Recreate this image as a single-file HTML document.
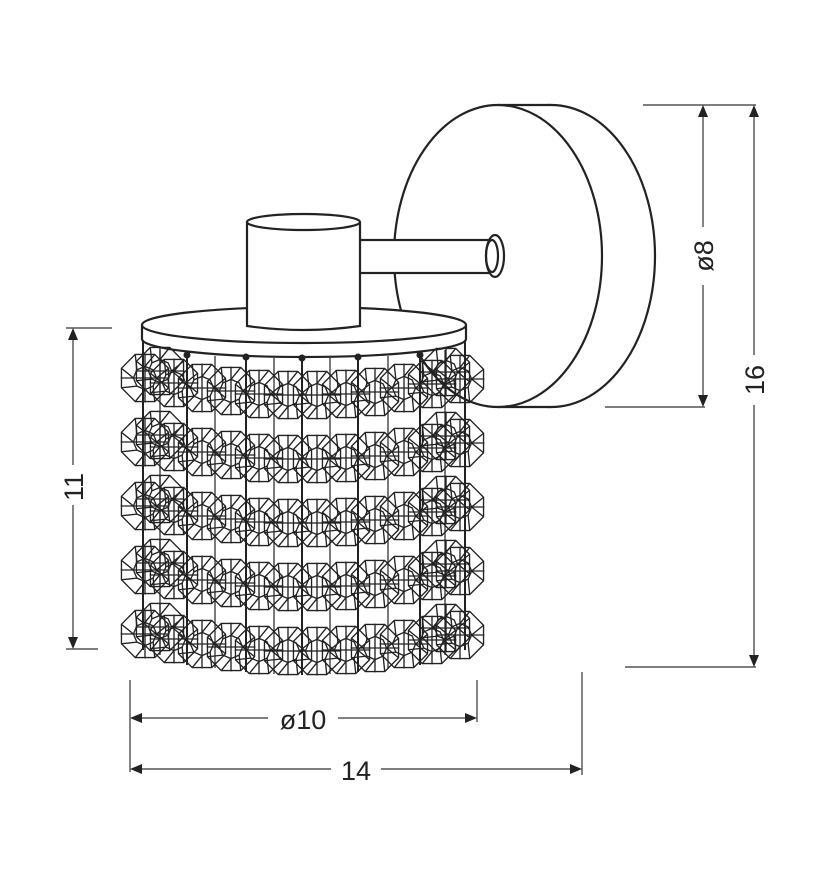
<!DOCTYPE html>
<html><head><meta charset="utf-8"><style>
html,body{margin:0;padding:0;background:#fff;width:828px;height:886px;overflow:hidden}
svg{display:block}
text{font-family:"Liberation Sans",sans-serif;font-size:27px;fill:#222}
</style></head><body>
<svg width="828" height="886" viewBox="0 0 828 886">
<defs>
<g id="c" fill="none" stroke="#222" stroke-width="1.15" transform="scale(1.16)">
<polygon points="20.3,8.4 8.4,20.3 -8.4,20.3 -20.3,8.4 -20.3,-8.4 -8.4,-20.3 8.4,-20.3 20.3,-8.4"/>
<polygon points="10,0 7,7 0,10 -7,7 -10,0 -7,-7 0,-10 7,-7"/>
<path d="M10,0L20.3,8.4M10,0L20.3,-8.4M7,7L8.4,20.3M0,10L-8.4,20.3M-7,7L-20.3,8.4M-10,0L-20.3,-8.4M-7,-7L-8.4,-20.3M0,-10L8.4,-20.3M-21,0H21M0,-21V21"/>
</g>
<g id="row">
<use href="#c" x="145" y="1"/><use href="#c" x="174" y="6"/><use href="#c" x="202" y="11"/><use href="#c" x="231" y="14"/><use href="#c" x="259" y="17"/><use href="#c" x="288" y="18"/><use href="#c" x="317" y="18"/><use href="#c" x="346" y="17"/><use href="#c" x="375" y="15"/><use href="#c" x="404" y="11"/><use href="#c" x="432" y="7"/><use href="#c" x="460" y="2"/>
<use href="#c" x="160" y="-6"/><use href="#c" x="446" y="-5"/>
</g>
</defs>
<g fill="none" stroke="#222" stroke-width="2.2">
<ellipse cx="551" cy="256" rx="104" ry="151" fill="#fff"/>
<rect x="498" y="105" width="53" height="302" fill="#fff" stroke="none"/>
<line x1="498" y1="105" x2="551" y2="105"/><line x1="498" y1="407" x2="551" y2="407"/>
<ellipse cx="498" cy="256" rx="104" ry="151" fill="#fff"/>
<rect x="355" y="240" width="136" height="33" fill="#fff"/>
<ellipse cx="495" cy="256" rx="9" ry="21" fill="#fff"/>
<ellipse cx="492" cy="256" rx="6" ry="16"/>
<path d="M142,325 V339 A162,18 0 0 0 466,339 V325" fill="#fff"/>
<ellipse cx="304" cy="325" rx="162" ry="18" fill="#fff"/>
<path d="M247,222 V326 Q303,334 360,326 V222" fill="#fff"/>
<ellipse cx="303.5" cy="222" rx="56.5" ry="8" fill="#fff"/>
</g>
<g stroke="#222" stroke-width="2">
<line x1="143" y1="340" x2="143" y2="650"/><line x1="187" y1="355" x2="187" y2="665"/><line x1="246" y1="357" x2="246" y2="672"/><line x1="302" y1="358" x2="302" y2="675"/><line x1="358" y1="357" x2="358" y2="672"/><line x1="420" y1="355" x2="420" y2="665"/><line x1="465" y1="340" x2="465" y2="650"/>
<line x1="160" y1="350" x2="160" y2="655" stroke-width="1.2"/><line x1="215" y1="356" x2="215" y2="668" stroke-width="1.2"/><line x1="274" y1="358" x2="274" y2="674" stroke-width="1.2"/><line x1="330" y1="358" x2="330" y2="674" stroke-width="1.2"/><line x1="388" y1="356" x2="388" y2="668" stroke-width="1.2"/><line x1="445" y1="350" x2="445" y2="655" stroke-width="1.2"/>
</g>
<g fill="#222"><circle cx="187" cy="355" r="3.5"/><circle cx="246" cy="357" r="3.5"/><circle cx="302" cy="358" r="3.5"/><circle cx="358" cy="357" r="3.5"/><circle cx="420" cy="355" r="3.5"/></g>
<use href="#row" y="377"/><use href="#row" y="441"/><use href="#row" y="505"/><use href="#row" y="569"/><use href="#row" y="633"/>
<g stroke="#333" stroke-width="1.2" fill="none">
<line x1="66" y1="328" x2="112" y2="328"/><line x1="66" y1="649" x2="98" y2="649"/>
<line x1="73" y1="336" x2="73" y2="465"/><line x1="73" y1="505" x2="73" y2="641"/>
<line x1="130" y1="680" x2="130" y2="772"/><line x1="477" y1="680" x2="477" y2="722"/><line x1="582" y1="672" x2="582" y2="775"/>
<line x1="138" y1="718" x2="268" y2="718"/><line x1="338" y1="718" x2="469" y2="718"/>
<line x1="138" y1="769" x2="331" y2="769"/><line x1="381" y1="769" x2="574" y2="769"/>
<line x1="643" y1="105" x2="756" y2="105"/><line x1="605" y1="407" x2="705" y2="407"/><line x1="625" y1="667" x2="756" y2="667"/>
<line x1="703" y1="113" x2="703" y2="227"/><line x1="703" y1="285" x2="703" y2="399"/>
<line x1="754" y1="113" x2="754" y2="355"/><line x1="754" y1="405" x2="754" y2="659"/>
</g>
<g fill="#222">
<polygon points="73,328 68,340 78,340"/><polygon points="73,649 68,637 78,637"/>
<polygon points="130,718 142,713 142,723"/><polygon points="477,718 465,713 465,723"/>
<polygon points="130,769 142,764 142,774"/><polygon points="582,769 570,764 570,774"/>
<polygon points="703,105 698,117 708,117"/><polygon points="703,407 698,395 708,395"/>
<polygon points="754,105 749,117 759,117"/><polygon points="754,667 749,655 759,655"/>
</g>
<text x="303" y="729" text-anchor="middle">ø10</text>
<text x="356" y="780" text-anchor="middle">14</text>
<text transform="translate(83,487) rotate(-90)" text-anchor="middle">11</text>
<text transform="translate(713,256) rotate(-90)" text-anchor="middle">ø8</text>
<text transform="translate(764,380) rotate(-90)" text-anchor="middle">16</text>
</svg>
</body></html>
